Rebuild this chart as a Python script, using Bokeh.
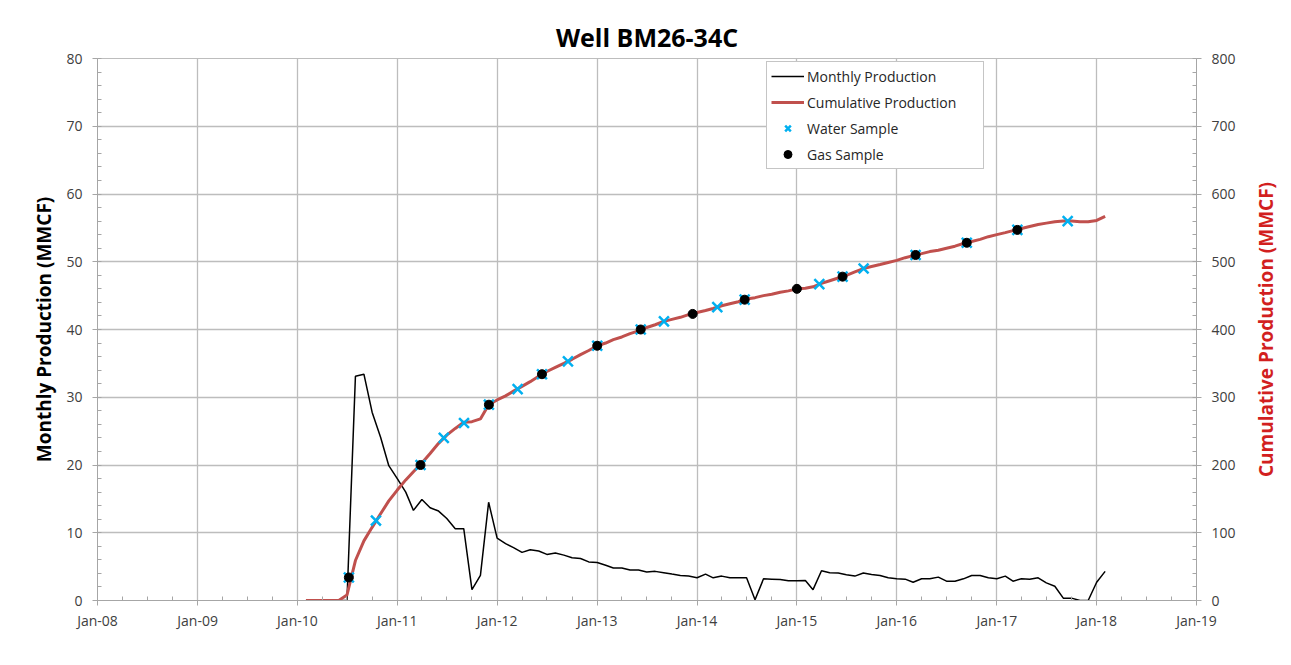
import math
import numpy as np
import pandas as pd
from bokeh.plotting import figure
from bokeh.models import (Range1d, LinearAxis, FixedTicker, SingleIntervalTicker,
                          DatetimeTickFormatter, Legend, LegendItem, Label)
from bokeh.embed import file_html
from bokeh.resources import INLINE

# ---------------- data ----------------
monthly_start = "2010-02-01"
monthly_prod = [
    0, 0, 0, 0, 0, 0, 33.1, 33.4, 27.8, 24.1, 19.9,
    18.0, 16.0, 13.3, 14.9, 13.7, 13.2, 12.1, 10.6, 10.6, 1.6, 3.7, 14.5,
    9.2, 8.4, 7.8, 7.1, 7.5, 7.3, 6.8, 7.0, 6.7, 6.3, 6.2, 5.7,
    5.6, 5.2, 4.8, 4.8, 4.5, 4.5, 4.2, 4.3, 4.1, 3.9, 3.7, 3.6,
    3.35, 3.9, 3.35, 3.6, 3.35, 3.35, 3.35, 0.1, 3.2, 3.15, 3.1, 2.9,
    2.9, 2.95, 1.6, 4.4, 4.1, 4.05, 3.8, 3.6, 4.05, 3.85, 3.7, 3.35,
    3.2, 3.15, 2.7, 3.2, 3.2, 3.45, 2.85, 2.85, 3.2, 3.7, 3.7, 3.35,
    3.2, 3.6, 2.85, 3.2, 3.15, 3.35, 2.6, 2.1, 0.35, 0.35, 0.0, 0.0,
    2.7, 4.3,
]
cum_prod = [
    0, 0, 0, 0, 0, 8, 59, 88, 108, 128, 147,
    163, 178, 190, 203, 217, 232, 244, 254, 263, 264, 268, 289,
    296, 302, 309, 316, 323, 331, 338, 344, 350, 356, 363, 369,
    376, 380, 385, 389, 394, 398, 403, 407, 412, 415, 418, 422,
    425, 428, 431, 435, 438, 441, 445, 447, 450, 452, 455, 457,
    460, 461, 463, 468, 472, 476, 480, 485, 490, 493, 496, 499,
    502, 506, 509, 512, 515, 517, 520, 523, 527, 530, 533, 537,
    540, 543, 546, 549, 552, 555, 557, 559, 560, 560, 559, 559,
    561, 567,
]
water_dates = ["2010-07-08", "2010-10-15", "2011-03-27", "2011-06-20", "2011-09-02",
               "2011-12-02", "2012-03-16", "2012-06-13", "2012-09-16", "2013-01-01",
               "2013-06-09", "2013-09-02", "2014-03-16", "2014-06-24", "2015-03-24",
               "2015-06-17", "2015-09-02", "2016-03-10", "2016-09-13", "2017-03-17",
               "2017-09-17"]
water_cum = [34, 118, 200, 240, 262, 289, 312, 334, 353, 376, 400, 412, 433, 444,
             467, 478, 490, 510, 528, 547, 560]
gas_dates = ["2010-07-08", "2011-03-27", "2011-12-02", "2012-06-13", "2013-01-01",
             "2013-06-09", "2013-12-16", "2014-06-24", "2015-01-01", "2015-06-17",
             "2016-03-10", "2016-09-13", "2017-03-17"]
gas_cum = [34, 200, 289, 334, 376, 400, 423, 444, 460, 478, 510, 528, 547]
year_ticks = [f"{y}-01-01" for y in range(2008, 2020)]
quarter_ticks = [f"{y}-{m:02d}-01" for y in range(2008, 2019) for m in (4, 7, 10)]
right_label = "Cumulative Production (MMCF)"


def to_ms(dates):
    return [float(v) for v in pd.DatetimeIndex(pd.to_datetime(dates)).as_unit("ms").asi8]


month_dates = pd.date_range(monthly_start, periods=len(monthly_prod), freq="MS")

FONT = "Open Sans"
GRID = "#bdbdbd"
AXIS = "#a6a6a6"
LBL = "#404040"
RED_LINE = "#c0504d"
RED_TXT = "#d21f1f"
BLUE = "#00b0f0"

x0, x1 = to_ms(["2008-01-01", "2019-01-01"])

p = figure(width=1290, height=664, x_axis_type="datetime",
           x_range=Range1d(x0, x1), y_range=Range1d(0, 80),
           output_backend="svg", toolbar_location=None,
           min_border_left=97, min_border_right=94, min_border_top=58, min_border_bottom=64)
p.extra_y_ranges = {"cum": Range1d(0, 800)}
p.styles = {"outline": "1px solid #b0b0b0", "outline-offset": "-5px"}

p.title.text = "Well BM26-34C"
p.title.align = "center"
p.title.text_font = FONT
p.title.text_font_size = "25px"
p.title.text_font_style = "bold"
p.title.text_color = "black"

p.background_fill_color = "white"
p.border_fill_color = "white"
p.outline_line_color = GRID

# x axis
xa = p.xaxis[0]
xa.ticker = FixedTicker(ticks=to_ms(year_ticks), minor_ticks=to_ms(quarter_ticks))
fmt = "%b-%y"
xa.formatter = DatetimeTickFormatter(years=fmt, months=fmt, days=fmt, hours=fmt,
                                     hourmin=fmt, minutes=fmt, minsec=fmt,
                                     seconds=fmt, milliseconds=fmt, microseconds=fmt)

# left axis
ya = p.yaxis[0]
ya.ticker = SingleIntervalTicker(interval=10, num_minor_ticks=5)
ya.axis_label = "Monthly Production (MMCF)"
ya.axis_label_text_color = "black"
ya.axis_label_standoff = 6

# right axis
ra = LinearAxis(y_range_name="cum",
                ticker=SingleIntervalTicker(interval=100, num_minor_ticks=5))
p.add_layout(ra, "right")

for ax in (xa, ya, ra):
    ax.axis_line_color = AXIS
    ax.major_tick_line_color = AXIS
    ax.minor_tick_line_color = AXIS
    ax.major_tick_in = 0
    ax.major_tick_out = 5
    ax.minor_tick_in = 4
    ax.minor_tick_out = 0
    ax.major_label_text_font = FONT
    ax.major_label_text_font_size = "14px"
    ax.major_label_text_color = LBL
    ax.axis_label_text_font = FONT
    ax.axis_label_text_font_size = "19px"
    ax.axis_label_text_font_style = "bold"
xa.major_label_standoff = 5
ya.major_label_standoff = 10
ra.major_label_standoff = 10

# right axis title, reading bottom-to-top like the left one
p.add_layout(Label(x=27, y=271, x_units="screen", y_units="screen",
                   text=right_label, angle=math.pi / 2,
                   text_align="center", text_baseline="middle",
                   text_font=FONT, text_font_size="19px", text_font_style="bold",
                   text_color=RED_TXT), "right")

p.xgrid.grid_line_color = GRID
p.xgrid.grid_line_width = 1.3
p.ygrid.grid_line_color = GRID
p.ygrid.grid_line_width = 1.3

# glyphs
r_mon = p.line(month_dates, monthly_prod, line_color="black", line_width=1.5)
r_cum = p.line(month_dates, cum_prod, y_range_name="cum", line_color=RED_LINE, line_width=3)
r_wat = p.scatter(pd.to_datetime(water_dates), water_cum, y_range_name="cum", marker="x",
                  size=14, line_color=BLUE, line_width=2.5)
r_gas = p.scatter(pd.to_datetime(gas_dates), gas_cum, y_range_name="cum", marker="circle",
                  size=9, fill_color="black", line_color="black")

legend = Legend(items=[
    LegendItem(label="Monthly Production", renderers=[r_mon]),
    LegendItem(label="Cumulative Production", renderers=[r_cum]),
    LegendItem(label="Water Sample", renderers=[r_wat]),
    LegendItem(label="Gas Sample", renderers=[r_gas]),
], location=(669, 431))
legend.label_text_font = FONT
legend.label_text_font_size = "14px"
legend.label_text_color = "#262626"
legend.glyph_width = 33
legend.glyph_height = 20
legend.label_height = 20
legend.label_width = 172
legend.label_standoff = 3
legend.spacing = 6
legend.padding = 4
legend.margin = 0
legend.border_line_color = "#8c8c8c"
legend.border_line_width = 1
legend.background_fill_color = "white"
legend.background_fill_alpha = 1
p.add_layout(legend)

open("out.html", "w").write(file_html(p, INLINE))
